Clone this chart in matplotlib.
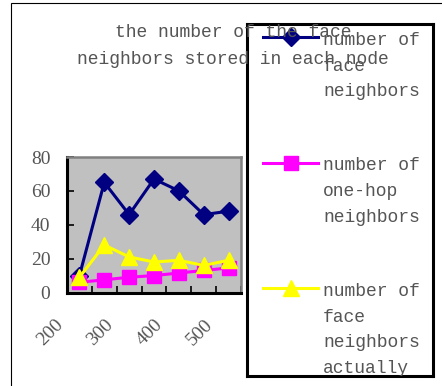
import numpy as np
import matplotlib
matplotlib.use("Agg")
from matplotlib import pyplot as plt
from matplotlib.patches import Rectangle

# ===== Dados =====

categorias = np.arange(7)
rotulos_x = ["200", "", "300", "", "400", "", "500", ""]

vizinhos_face = [10, 65, 46, 67, 60, 46, 48]
vizinhos_um_salto = [6, 7.5, 9, 10, 11.5, 13, 14.5]
vizinhos_face_armazenados = [9, 28, 21, 18, 19, 16, 19]

legenda = [
    "number of\nface\nneighbors",
    "number of\none-hop\nneighbors",
    "number of\nface\nneighbors\nactually",
]
titulo = "the number of the face\nneighbors stored in each node"

cinza = "#555555"
mono = "Liberation Mono"
serif = "Liberation Serif"

W, H = 442, 386
fig = plt.figure(figsize=(W / 100, H / 100), dpi=100)

# borda externa do gráfico
fig.patches.append(Rectangle((11 / W, -0.05), 1.0, 1.05 - 3 / H,
                             transform=fig.transFigure, fill=False,
                             edgecolor="black", linewidth=0.8))

fig.text(233 / W, 1 - 46 / H, titulo, ha="center", va="center",
         family=mono, fontsize=13, color=cinza, linespacing=1.75)

# ===== Área de plotagem =====

ax = fig.add_axes([67 / W, 1 - 292.5 / H, (241 - 67) / W, (292.5 - 157) / H])
ax.set_facecolor("#c0c0c0")

ax.plot(categorias, vizinhos_face, color="#000080", lw=2.2, marker="D", ms=9,
        zorder=3)
ax.plot(categorias, vizinhos_um_salto, color="#ff00ff", lw=2.2, marker="s",
        ms=10, zorder=3)
ax.plot(categorias, vizinhos_face_armazenados, color="#ffff00", lw=2.2,
        marker="^", ms=11, zorder=4)

ax.set_xlim(-0.5, 6.5)
ax.set_ylim(0, 80)
ax.set_yticks([0, 20, 40, 60, 80])
ax.set_xticks(np.arange(-0.5, 7, 1))
ax.set_xticklabels(rotulos_x, rotation=45, ha="right", va="top")

ax.tick_params(axis="both", direction="in", length=5, width=1.2,
               colors="black", labelcolor=cinza, labelsize=14)
ax.tick_params(axis="y", pad=12)
ax.tick_params(axis="x", pad=17)
for t in ax.get_xticklabels() + ax.get_yticklabels():
    t.set_family(serif)

ax.spines["left"].set_linewidth(2.2)
ax.spines["bottom"].set_linewidth(2.2)
for lado in ["top", "right"]:
    ax.spines[lado].set_color("#808080")
    ax.spines[lado].set_linewidth(1.8)

# ===== Legenda =====

lx0, ly0, lx1, ly1 = 247, 24, 433, 376
axl = fig.add_axes([lx0 / W, 1 - ly1 / H, (lx1 - lx0) / W, (ly1 - ly0) / H])
axl.set_xlim(0, lx1 - lx0)
axl.set_ylim(ly1 - ly0, 0)
axl.set_xticks([])
axl.set_yticks([])
axl.patch.set_alpha(0)
for s in axl.spines.values():
    s.set_linewidth(2.2)
    s.set_color("black")

linhas = ax.get_lines()
for i, (ln, txt) in enumerate(zip(linhas, legenda)):
    y = 13 + i * 125.5
    axl.plot([16, 71], [y, y], color=ln.get_color(), lw=2.2)
    axl.plot([43.5], [y], color=ln.get_color(), marker=ln.get_marker(),
             ms=ln.get_markersize(), ls="none")
    axl.text(76, y - 5, txt, ha="left", va="top", family=mono, fontsize=13,
             color=cinza, linespacing=1.66, clip_on=True)

fig.savefig("out.png", dpi=100)
